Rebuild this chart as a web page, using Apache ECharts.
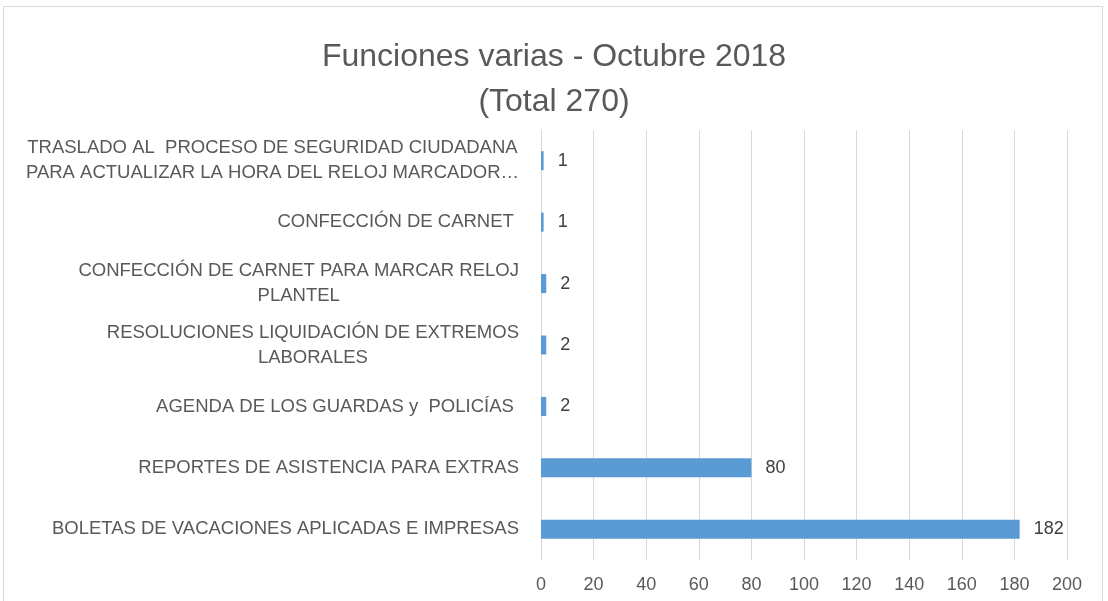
<!DOCTYPE html>
<html>
<head>
<meta charset="utf-8">
<script src="https://cdn.jsdelivr.net/npm/echarts@6/dist/echarts.min.js"></script>
<style>
  html, body { margin: 0; padding: 0; background: #fff; }
  #frame {
    position: absolute; left: 3px; top: 6px; width: 1100px; height: 620px;
    border: 1px solid #d9d9d9; box-sizing: border-box;
  }
  #chart { position: absolute; left: 0; top: 0; width: 1108px; height: 601px; }
</style>
</head>
<body>
<div id="frame"></div>
<div id="chart"></div>
<script>
// bottom to top, as the category axis draws them
const categories = [
  'BOLETAS DE VACACIONES APLICADAS E IMPRESAS',
  'REPORTES DE ASISTENCIA PARA EXTRAS',
  'AGENDA DE LOS GUARDAS y  POLICÍAS ',
  'RESOLUCIONES LIQUIDACIÓN DE EXTREMOS\nLABORALES',
  'CONFECCIÓN DE CARNET PARA MARCAR RELOJ\nPLANTEL',
  'CONFECCIÓN DE CARNET ',
  'TRASLADO AL  PROCESO DE SEGURIDAD CIUDADANA\nPARA ACTUALIZAR LA HORA DEL RELOJ MARCADOR…'
]
const values = [182, 80, 2, 2, 2, 1, 1]
const titleLines = ['Funciones varias - Octubre 2018', '(Total 270)']

const font = '"Liberation Sans", Arial, sans-serif'
const chart = echarts.init(document.getElementById('chart'))

chart.setOption({
  animation: false,
  title: {
    text: titleLines.join('\n'),
    left: 'center',
    top: 30,
    textStyle: { color: '#595959', fontSize: 32, fontWeight: 'normal', fontFamily: font, lineHeight: 45 }
  },
  grid: { left: 541, right: 41, top: 130, bottom: 41 },
  xAxis: {
    type: 'value',
    min: 0,
    max: 200,
    interval: 20,
    axisLine: { show: false },
    axisTick: { show: false },
    splitLine: { lineStyle: { color: '#d9d9d9', width: 1 } },
    axisLabel: { color: '#595959', fontSize: 18, fontFamily: font, margin: 16 }
  },
  yAxis: {
    type: 'category',
    data: categories,
    axisLine: { lineStyle: { color: '#d9d9d9' } },
    axisTick: { show: false },
    axisLabel: {
      margin: 22,
      formatter: v => '{c|' + v + '}',
      rich: {
        c: { color: '#595959', fontSize: 18.5, fontFamily: font, align: 'center', lineHeight: 25 }
      }
    }
  },
  series: [{
    type: 'bar',
    data: values,
    barWidth: 19,
    itemStyle: { color: '#5b9bd5' },
    label: {
      show: true,
      position: 'right',
      distance: 14,
      color: '#404040',
      fontSize: 18,
      fontFamily: font
    }
  }]
})
</script>
</body>
</html>
